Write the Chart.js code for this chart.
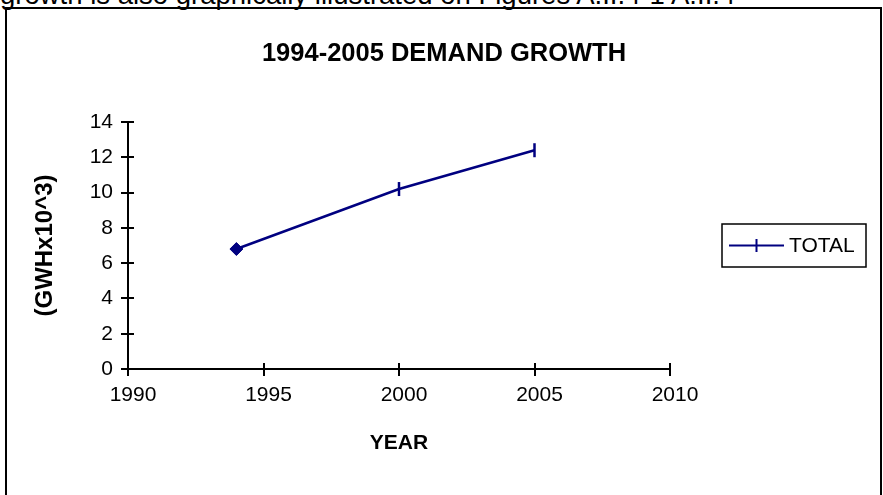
<!DOCTYPE html>
<html>
<head>
<meta charset="utf-8">
<title>1994-2005 Demand Growth</title>
<script src="https://cdn.jsdelivr.net/npm/chart.js@4.4.1/dist/chart.umd.min.js"></script>
<style>
    html, body { margin: 0; padding: 0; background: #fff; overflow: hidden; }
    body { width: 883px; height: 495px; position: relative; }
    #caption {
        position: absolute; left: 0; top: -19px;
        font: 27.5px/27.5px 'Liberation Sans', Arial, sans-serif;
        color: #000; white-space: nowrap;
    }
    #frame {
        position: absolute; left: 5px; top: 7px;
        width: 873px; height: 500px;
        border: 2px solid #000;
    }
    #myChart { position: absolute; left: 0; top: 0; }
</style>
</head>
<body>
<div id="caption">growth is also graphically illustrated on Figures A.II.4-1 A.II.4</div>
<div id="frame"></div>
<canvas id="myChart" width="883" height="495"></canvas>
<script>
// demand series (GWH x 10^3)
const years = [1994, 2000, 2005];
const totalDemand = [6.8, 10.2, 12.4];
const yearTicks = [1990, 1995, 2000, 2005, 2010];
const demandTicks = [0, 2, 4, 6, 8, 10, 12, 14];
const chartTitle = '1994-2005 DEMAND GROWTH';

const NAVY = '#000080';
const FONT = "'Liberation Sans', Arial, sans-serif";

// tick marks that cross the axis line on both sides
const crossTicks = {
    id: 'crossTicks',
    afterDatasetsDraw(chart) {
        const ctx = chart.ctx;
        const x = chart.scales.x;
        const y = chart.scales.y;
        ctx.save();
        ctx.strokeStyle = '#000';
        ctx.lineWidth = 2;
        ctx.beginPath();
        x.ticks.forEach(t => {
            const px = Math.round(x.getPixelForValue(t.value));
            ctx.moveTo(px, y.bottom - 6);
            ctx.lineTo(px, y.bottom + 7);
        });
        y.ticks.forEach(t => {
            const py = Math.round(y.getPixelForValue(t.value));
            ctx.moveTo(x.left - 7, py);
            ctx.lineTo(x.left + 6, py);
        });
        ctx.stroke();
        ctx.restore();
    }
};

// centred heading across the whole frame, plus a boxed legend
const heading = {
    id: 'heading',
    afterDraw(chart) {
        const ctx = chart.ctx;
        const ds = chart.data.datasets[0];
        ctx.save();
        ctx.fillStyle = '#000';
        ctx.font = 'bold 25.5px ' + FONT;
        ctx.textAlign = 'center';
        ctx.textBaseline = 'middle';
        ctx.fillText(chartTitle, 444, 54);

        ctx.strokeStyle = '#000';
        ctx.lineWidth = 1.5;
        ctx.strokeRect(722, 224, 144, 43);
        ctx.strokeStyle = ds.borderColor;
        ctx.lineWidth = 2;
        ctx.beginPath();
        ctx.moveTo(729, 245.5);
        ctx.lineTo(784, 245.5);
        ctx.moveTo(756.5, 239);
        ctx.lineTo(756.5, 252);
        ctx.stroke();
        ctx.font = '21px ' + FONT;
        ctx.textAlign = 'left';
        ctx.fillText(ds.label, 789, 246);
        ctx.restore();
    }
};

document.addEventListener('DOMContentLoaded', function () {
    drawChart();
});

function drawChart() {
    const ctx = document.getElementById('myChart').getContext('2d');

    const myChart = new Chart(ctx, {
        type: 'line',
        data: {
            datasets: [{
                label: 'TOTAL',
                data: years.map((yr, i) => ({ x: yr, y: totalDemand[i] })),
                borderColor: NAVY,
                backgroundColor: NAVY,
                borderWidth: 2.5,
                tension: 0,
                pointStyle: ['rectRot', 'line', 'line'],
                pointRotation: [0, 90, 90],
                pointRadius: [6.5, 7, 7],
                pointBorderWidth: [1, 2.5, 2.5],
                pointBackgroundColor: NAVY,
                pointBorderColor: NAVY
            }]
        },
        options: {
            responsive: false,
            animation: false,
            events: [],
            layout: { padding: { left: 0, right: 213, top: 122, bottom: 0 } },
            plugins: {
                legend: { display: false },
                tooltip: { enabled: false },
                title: { display: false }
            },
            scales: {
                x: {
                    type: 'linear',
                    min: 1990,
                    max: 2010,
                    afterBuildTicks: scale => { scale.ticks = yearTicks.map(v => ({ value: v })); },
                    afterFit: scale => { scale.height = 126; },
                    grid: { display: false, drawTicks: false },
                    border: { display: true, color: '#000', width: 2 },
                    ticks: {
                        color: '#000',
                        font: { family: FONT, size: 21 },
                        padding: 14,
                        labelOffset: 5,
                        maxRotation: 0,
                        callback: v => String(v)
                    },
                    title: {
                        display: true,
                        text: 'YEAR',
                        color: '#000',
                        font: { family: FONT, size: 21, weight: 'bold' },
                        padding: { top: 0, bottom: 39 }
                    }
                },
                y: {
                    type: 'linear',
                    min: 0,
                    max: 14,
                    afterBuildTicks: scale => { scale.ticks = demandTicks.map(v => ({ value: v })); },
                    afterFit: scale => { scale.width = 128; },
                    grid: { display: false, drawTicks: false },
                    border: { display: true, color: '#000', width: 2 },
                    ticks: {
                        color: '#000',
                        font: { family: FONT, size: 21 },
                        padding: 15
                    },
                    title: {
                        display: true,
                        text: '(GWHx10^3)',
                        color: '#000',
                        font: { family: FONT, size: 24, weight: 'bold' },
                        padding: { top: 31, bottom: 0 }
                    }
                }
            }
        },
        plugins: [crossTicks, heading]
    });
}
</script>
</body>
</html>
